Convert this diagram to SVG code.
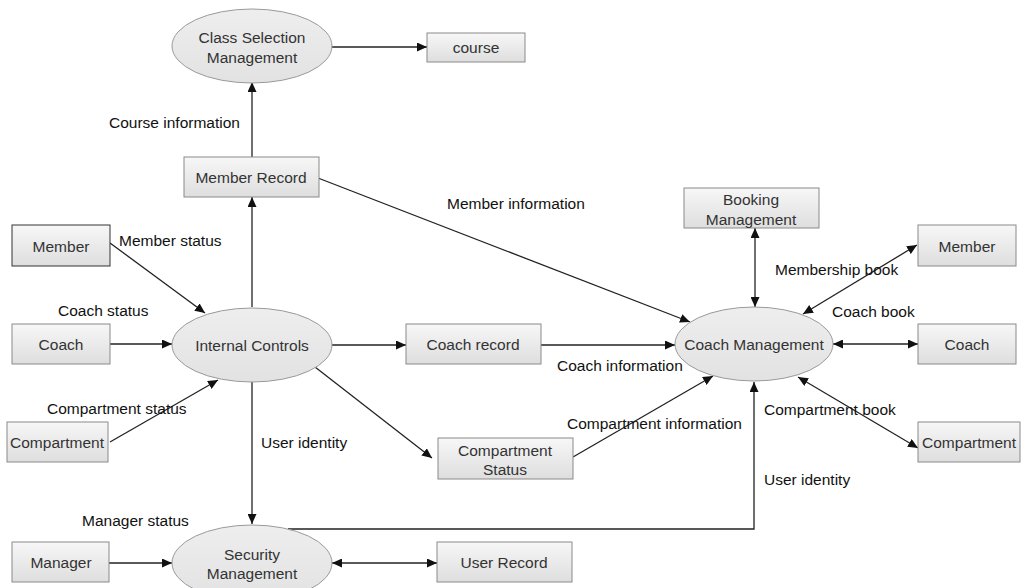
<svg xmlns="http://www.w3.org/2000/svg" width="1026" height="588" viewBox="0 0 1026 588">
  <style>
    text { font-family: "Liberation Sans", Arial, sans-serif; font-size: 15.5px; }
    .lbl { fill: #111; }
    .nt { fill: #333; text-anchor: middle; dominant-baseline: central; }
    .box { fill: url(#boxFill); stroke: #8a8a8a; stroke-width: 1; }
    .ell { fill: url(#ellFill); stroke: #9a9a9a; stroke-width: 1; }
    .edge { fill: none; stroke: #222; stroke-width: 1.3; }
    .one { marker-end: url(#arrow); }
    .two { marker-end: url(#arrow); marker-start: url(#arrow); }
  </style>
  <defs>
    <linearGradient id="boxFill" x1="0" y1="0" x2="0" y2="1">
      <stop offset="0" stop-color="#f7f7f7"/>
      <stop offset="1" stop-color="#dedede"/>
    </linearGradient>
    <linearGradient id="ellFill" x1="0" y1="0" x2="0" y2="1">
      <stop offset="0" stop-color="#eeeeee"/>
      <stop offset="1" stop-color="#e2e2e2"/>
    </linearGradient>
    <marker id="arrow" viewBox="0 0 10 10" refX="10" refY="5" markerWidth="10" markerHeight="9" markerUnits="userSpaceOnUse" orient="auto-start-reverse" preserveAspectRatio="none">
      <path d="M0,0 L10,5 L0,10 z" fill="#111"/>
    </marker>
  </defs>

  <rect width="1026" height="588" fill="#ffffff"/>

  <!-- connectors -->
  <g id="connectors">
    <line class="edge one" x1="331" y1="47" x2="427" y2="47"/>
    <line class="edge one" x1="252" y1="157" x2="252" y2="82"/>
    <line class="edge one" x1="252" y1="307" x2="252" y2="197"/>
    <line class="edge one" x1="318" y1="178" x2="690" y2="322"/>
    <line class="edge one" x1="110" y1="243" x2="205" y2="313"/>
    <line class="edge one" x1="110" y1="344" x2="172" y2="344"/>
    <line class="edge one" x1="110" y1="442" x2="218" y2="380"/>
    <line class="edge one" x1="331" y1="345" x2="406" y2="345"/>
    <line class="edge one" x1="541" y1="345" x2="675" y2="345"/>
    <line class="edge one" x1="315" y1="367" x2="432" y2="458"/>
    <line class="edge one" x1="573" y1="457" x2="713" y2="376"/>
    <line class="edge one" x1="252" y1="382" x2="252" y2="524"/>
    <polyline class="edge one" points="288,529 754,529 754,382"/>
    <line class="edge one" x1="109" y1="563" x2="172" y2="563"/>
    <line class="edge two" x1="332" y1="563" x2="437" y2="563"/>
    <line class="edge two" x1="755" y1="228" x2="755" y2="307"/>
    <line class="edge two" x1="803" y1="314" x2="917" y2="245"/>
    <line class="edge two" x1="833" y1="344" x2="918" y2="344"/>
    <line class="edge two" x1="798" y1="377" x2="918" y2="448"/>
  </g>

  <!-- connector labels -->
  <g id="labels">
    <text class="lbl" x="109" y="128">Course information</text>
    <text class="lbl" x="447" y="209">Member information</text>
    <text class="lbl" x="119" y="246">Member status</text>
    <text class="lbl" x="58" y="316">Coach status</text>
    <text class="lbl" x="47" y="414">Compartment status</text>
    <text class="lbl" x="261" y="448">User identity</text>
    <text class="lbl" x="82" y="526">Manager status</text>
    <text class="lbl" x="557" y="371">Coach information</text>
    <text class="lbl" x="567" y="429">Compartment information</text>
    <text class="lbl" x="775" y="275">Membership book</text>
    <text class="lbl" x="832" y="317">Coach book</text>
    <text class="lbl" x="764" y="415">Compartment book</text>
    <text class="lbl" x="764" y="485">User identity</text>
  </g>

  <!-- nodes -->
  <g id="class-selection">
    <ellipse class="ell" cx="252" cy="46" rx="80" ry="37"/>
    <text class="nt" x="252" y="37">Class Selection</text>
    <text class="nt" x="252" y="57">Management</text>
  </g>
  <g id="course">
    <rect class="box" x="427" y="33" width="98" height="29"/>
    <text class="nt" x="476" y="47">course</text>
  </g>
  <g id="member-record">
    <rect class="box" x="184" y="157" width="135" height="40"/>
    <text class="nt" x="251" y="177">Member Record</text>
  </g>
  <g id="member-left">
    <rect class="box" x="12" y="225" width="98" height="41" style="stroke:#333"/>
    <text class="nt" x="61" y="246">Member</text>
  </g>
  <g id="coach-left">
    <rect class="box" x="12" y="324" width="98" height="40"/>
    <text class="nt" x="61" y="344">Coach</text>
  </g>
  <g id="compartment-left">
    <rect class="box" x="7" y="422" width="101" height="40"/>
    <text class="nt" x="57" y="442">Compartment</text>
  </g>
  <g id="internal-controls">
    <ellipse class="ell" cx="252" cy="345" rx="80" ry="37"/>
    <text class="nt" x="252" y="345">Internal Controls</text>
  </g>
  <g id="coach-record">
    <rect class="box" x="406" y="324" width="135" height="40"/>
    <text class="nt" x="473" y="344">Coach record</text>
  </g>
  <g id="compartment-status">
    <rect class="box" x="438" y="438" width="135" height="41"/>
    <text class="nt" x="505" y="450">Compartment</text>
    <text class="nt" x="505" y="469">Status</text>
  </g>
  <g id="coach-management">
    <ellipse class="ell" cx="754" cy="344" rx="79" ry="37"/>
    <text class="nt" x="754" y="344">Coach Management</text>
  </g>
  <g id="booking-management">
    <rect class="box" x="684" y="188" width="135" height="40"/>
    <text class="nt" x="751" y="199">Booking</text>
    <text class="nt" x="751" y="219">Management</text>
  </g>
  <g id="member-right">
    <rect class="box" x="918" y="225" width="98" height="41"/>
    <text class="nt" x="967" y="246">Member</text>
  </g>
  <g id="coach-right">
    <rect class="box" x="918" y="324" width="98" height="40"/>
    <text class="nt" x="967" y="344">Coach</text>
  </g>
  <g id="compartment-right">
    <rect class="box" x="918" y="422" width="102" height="40"/>
    <text class="nt" x="969" y="442">Compartment</text>
  </g>
  <g id="manager">
    <rect class="box" x="12" y="542" width="97" height="40"/>
    <text class="nt" x="61" y="562">Manager</text>
  </g>
  <g id="security-management">
    <ellipse class="ell" cx="252" cy="563" rx="80" ry="38"/>
    <text class="nt" x="252" y="554">Security</text>
    <text class="nt" x="252" y="573">Management</text>
  </g>
  <g id="user-record">
    <rect class="box" x="437" y="542" width="135" height="40"/>
    <text class="nt" x="504" y="562">User Record</text>
  </g>
</svg>
